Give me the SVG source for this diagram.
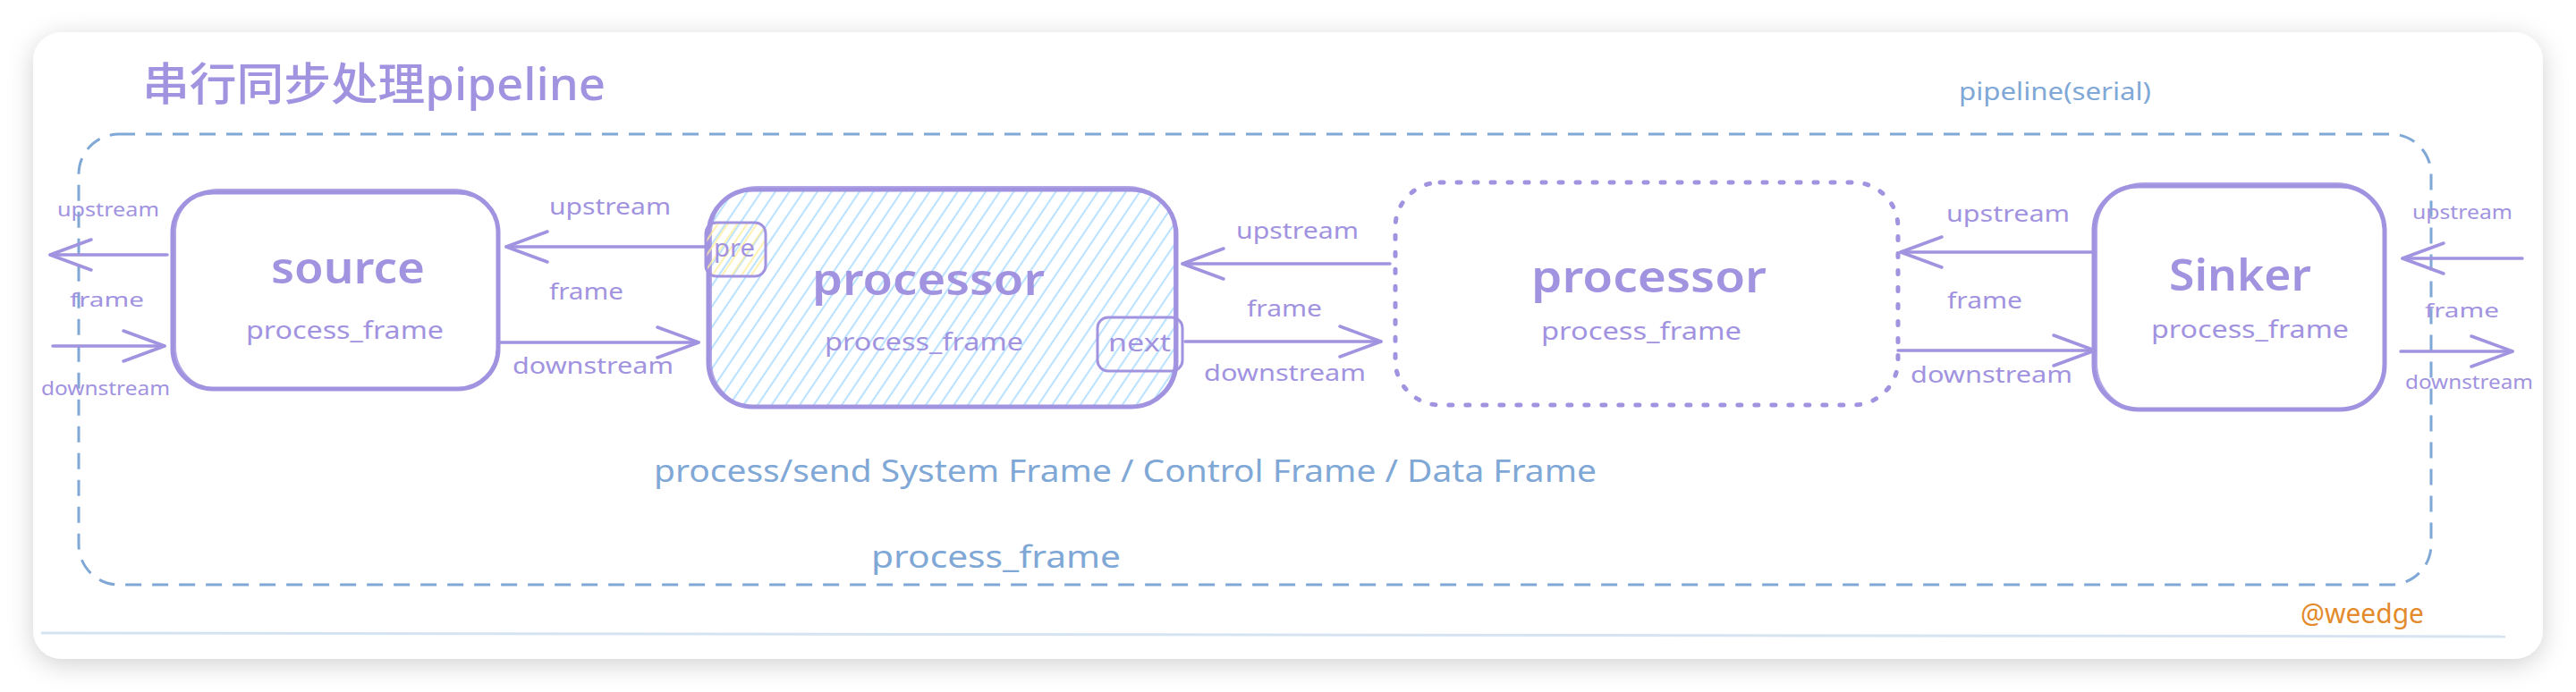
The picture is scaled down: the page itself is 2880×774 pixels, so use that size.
<svg xmlns="http://www.w3.org/2000/svg" width="2880" height="774" viewBox="0 0 2880 774">
<defs>
<filter id="shadow" x="-5%" y="-10%" width="110%" height="125%">
<feDropShadow dx="0" dy="6" stdDeviation="14" flood-color="#000" flood-opacity="0.18"/>
</filter>
<pattern id="hatchBlue" patternUnits="userSpaceOnUse" width="13" height="13" patternTransform="rotate(34)">
<line x1="6.5" y1="0" x2="6.5" y2="13" stroke="#a5d8ff" stroke-width="1.6"/>
</pattern>
<pattern id="hatchYellow" patternUnits="userSpaceOnUse" width="9" height="9" patternTransform="rotate(34)">
<line x1="4.5" y1="0" x2="4.5" y2="9" stroke="#ffec99" stroke-width="1.6"/>
</pattern>
<marker id="arr" markerUnits="userSpaceOnUse" viewBox="-50 -20 54 40" refX="0" refY="0" markerWidth="54" markerHeight="40" orient="auto">
<path d="M-46,-17 L0,0 L-46,17" fill="none" stroke="#a193e0" stroke-width="3.5" stroke-linecap="round" stroke-linejoin="round"/>
</marker>
<style>
.box{fill:#fff;stroke:#a193e0;stroke-width:5;}
.box2{fill:none;stroke:#a193e0;stroke-width:2;opacity:0.8;}
.dot{fill:none;stroke:#a193e0;stroke-width:5;stroke-dasharray:4 15;stroke-linecap:round;}
.conn{fill:none;stroke:#a193e0;stroke-width:3.5;stroke-linecap:round;marker-end:url(#arr);}
.t{font-family:"Noto Sans","Liberation Sans","Noto Sans CJK SC",sans-serif;fill:#a193e0;}
.big{font-size:48px;font-weight:600;}
.mid{font-size:28px;}
.lbl{font-size:26px;}
.sml{font-size:22px;}
.blue{fill:#7fa8d6;}
</style>
</defs>
<rect x="0" y="0" width="2880" height="774" fill="#ffffff"/>
<rect x="37" y="36" width="2806" height="701" rx="32" fill="#ffffff" filter="url(#shadow)"/>
<line x1="46" y1="708" x2="2801" y2="712" stroke="#d6e4f2" stroke-width="3"/>

<g id="title">
<text class="t" x="159" y="112" font-size="50" font-weight="500" textLength="518" lengthAdjust="spacingAndGlyphs">串行同步处理pipeline</text>
</g>

<g id="pipeline">
<rect x="88" y="150" width="2630" height="504" rx="45" fill="none" stroke="#7fa8d6" stroke-width="3" stroke-dasharray="18 12"/>
<text class="t blue" x="2190" y="112" font-size="28" textLength="215" lengthAdjust="spacingAndGlyphs">pipeline(serial)</text>
<text class="t blue" x="731" y="539" font-size="34" textLength="1054" lengthAdjust="spacingAndGlyphs">process/send System Frame / Control Frame / Data Frame</text>
<text class="t blue" x="974" y="635" font-size="34" textLength="279" lengthAdjust="spacingAndGlyphs">process_frame</text>
</g>

<g id="source">
<rect class="box" x="193" y="215" width="364" height="220" rx="45"/>
<rect class="box2" x="196" y="212" width="360" height="224" rx="48"/>
<text class="t big" x="303" y="317" textLength="172" lengthAdjust="spacingAndGlyphs">source</text>
<text class="t mid" x="275" y="379" textLength="221" lengthAdjust="spacingAndGlyphs">process_frame</text>
</g>

<g id="processor1">
<rect x="792" y="212" width="523" height="243" rx="50" fill="url(#hatchBlue)" stroke="#a193e0" stroke-width="5"/>
<rect class="box2" x="795" y="209" width="518" height="247" rx="52"/>
<text class="t big" x="908" y="330" textLength="260" lengthAdjust="spacingAndGlyphs">processor</text>
<text class="t mid" x="922" y="392" textLength="222" lengthAdjust="spacingAndGlyphs">process_frame</text>
</g>

<g id="pre">
<rect x="789" y="249" width="67" height="60" rx="12" fill="url(#hatchYellow)" stroke="#a193e0" stroke-width="3"/>
<text class="t mid" x="798" y="287" textLength="46" lengthAdjust="spacingAndGlyphs">pre</text>
</g>

<g id="next">
<rect x="1227" y="355" width="95" height="60" rx="12" fill="none" stroke="#a193e0" stroke-width="3"/>
<text class="t mid" x="1239" y="393" textLength="70" lengthAdjust="spacingAndGlyphs">next</text>
</g>

<g id="processor2">
<rect class="dot" x="1560" y="204" width="562" height="249" rx="50"/>
<text class="t big" x="1712" y="327" textLength="263" lengthAdjust="spacingAndGlyphs">processor</text>
<text class="t mid" x="1723" y="380" textLength="224" lengthAdjust="spacingAndGlyphs">process_frame</text>
</g>

<g id="sinker">
<rect class="box" x="2341" y="208" width="325" height="250" rx="50"/>
<rect class="box2" x="2344" y="205" width="321" height="254" rx="53"/>
<text class="t big" x="2425" y="325" textLength="159" lengthAdjust="spacingAndGlyphs">Sinker</text>
<text class="t mid" x="2405" y="378" textLength="221" lengthAdjust="spacingAndGlyphs">process_frame</text>
</g>

<g id="connectors">
<line class="conn" x1="187" y1="285" x2="56" y2="285"/>
<line class="conn" x1="59" y1="387" x2="184" y2="387"/>
<line class="conn" x1="793" y1="276" x2="566" y2="276"/>
<line class="conn" x1="557" y1="383" x2="781" y2="383"/>
<line class="conn" x1="1554" y1="295" x2="1322" y2="295"/>
<line class="conn" x1="1325" y1="382" x2="1544" y2="382"/>
<line class="conn" x1="2341" y1="282" x2="2125" y2="282"/>
<line class="conn" x1="2122" y1="392" x2="2342" y2="392"/>
<line class="conn" x1="2820" y1="289" x2="2686" y2="289"/>
<line class="conn" x1="2684" y1="393" x2="2809" y2="393"/>
<text class="t sml" x="64" y="242" textLength="114" lengthAdjust="spacingAndGlyphs">upstream</text>
<text class="t sml" x="78" y="343" textLength="83" lengthAdjust="spacingAndGlyphs">frame</text>
<text class="t sml" x="46" y="442" textLength="144" lengthAdjust="spacingAndGlyphs">downstream</text>
<text class="t lbl" x="614" y="240" textLength="136" lengthAdjust="spacingAndGlyphs">upstream</text>
<text class="t lbl" x="614" y="335" textLength="83" lengthAdjust="spacingAndGlyphs">frame</text>
<text class="t lbl" x="573" y="418" textLength="180" lengthAdjust="spacingAndGlyphs">downstream</text>
<text class="t lbl" x="1382" y="267" textLength="137" lengthAdjust="spacingAndGlyphs">upstream</text>
<text class="t lbl" x="1394" y="354" textLength="84" lengthAdjust="spacingAndGlyphs">frame</text>
<text class="t lbl" x="1346" y="426" textLength="181" lengthAdjust="spacingAndGlyphs">downstream</text>
<text class="t lbl" x="2176" y="248" textLength="138" lengthAdjust="spacingAndGlyphs">upstream</text>
<text class="t lbl" x="2177" y="345" textLength="84" lengthAdjust="spacingAndGlyphs">frame</text>
<text class="t lbl" x="2136" y="428" textLength="181" lengthAdjust="spacingAndGlyphs">downstream</text>
<text class="t sml" x="2697" y="245" textLength="112" lengthAdjust="spacingAndGlyphs">upstream</text>
<text class="t sml" x="2711" y="355" textLength="83" lengthAdjust="spacingAndGlyphs">frame</text>
<text class="t sml" x="2689" y="435" textLength="143" lengthAdjust="spacingAndGlyphs">downstream</text>
</g>

<g id="watermark">
<text class="t" x="2572" y="697" font-size="30" style="fill:#e38b2c" textLength="138" lengthAdjust="spacingAndGlyphs">@weedge</text>
</g>
</svg>
